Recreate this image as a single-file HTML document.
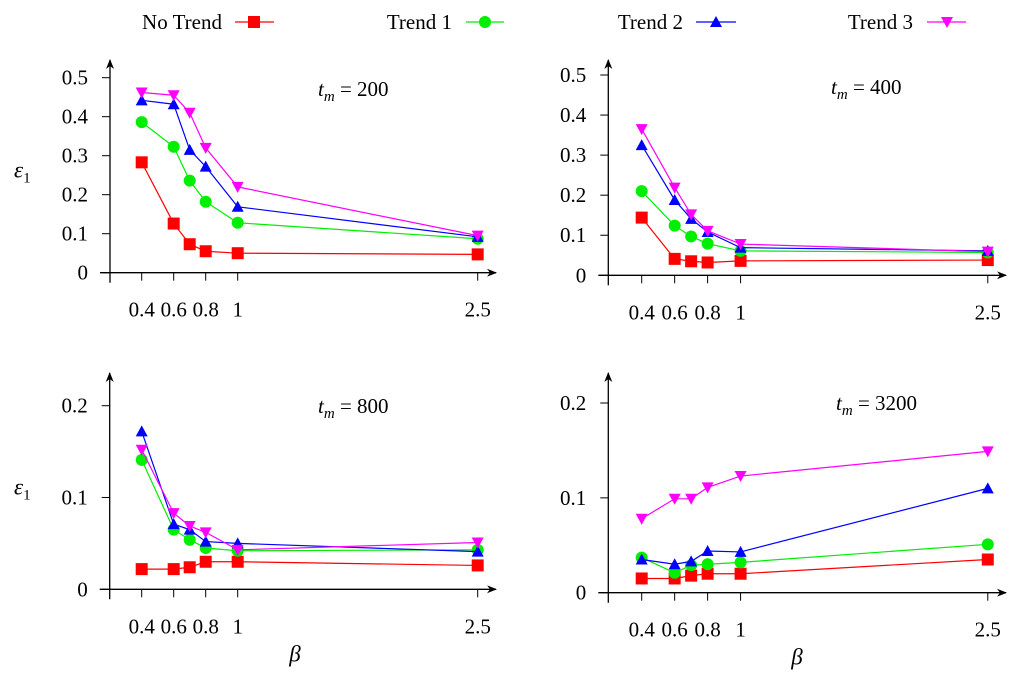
<!DOCTYPE html>
<html><head><meta charset="utf-8"><style>
html,body{margin:0;padding:0;background:#fff;}
svg{display:block;font-family:"Liberation Serif",serif;}
</style></head><body>
<svg id="chart" width="1024" height="678" viewBox="0 0 1024 678" xmlns="http://www.w3.org/2000/svg">
<defs><marker id="arr" markerWidth="10" markerHeight="8" refX="9" refY="4" orient="auto" markerUnits="userSpaceOnUse"><path d="M0,0 L10,4 L0,8 L3,4 Z" fill="#000"/></marker></defs>
<g id="legend" font-size="21"></g>
</svg>
<script>
const betas = [0.4, 0.6, 0.7, 0.8, 1, 2.5];
const xTicks = [0.4, 0.6, 0.8, 1, 2.5];
const xTickLabels = ["0.4", "0.6", "0.8", "1", "2.5"];
const seriesNames = ["No Trend", "Trend 1", "Trend 2", "Trend 3"];
const seriesColors = ["#ff0000", "#00ee00", "#0000ff", "#ff00ff"];
const panelTitles = ["200", "400", "800", "3200"];
const yTicksTop = [0, 0.1, 0.2, 0.3, 0.4, 0.5];
const yTicksBottom = [0, 0.1, 0.2];
const p200 = [[0.283,0.126,0.073,0.055,0.050,0.047],[0.386,0.323,0.236,0.182,0.128,0.087],[0.442,0.432,0.315,0.272,0.169,0.092],[0.462,0.455,0.410,0.320,0.220,0.095]];
const p400 = [[0.144,0.041,0.035,0.032,0.036,0.038],[0.210,0.124,0.097,0.079,0.061,0.057],[0.325,0.188,0.141,0.108,0.069,0.061],[0.365,0.219,0.152,0.111,0.078,0.059]];
const p800 = [[0.022,0.022,0.024,0.030,0.030,0.026],[0.141,0.065,0.054,0.045,0.042,0.043],[0.172,0.071,0.065,0.052,0.050,0.041],[0.152,0.083,0.069,0.062,0.043,0.051]];
const p3200 = [[0.015,0.015,0.018,0.020,0.020,0.035],[0.037,0.021,0.029,0.030,0.032,0.051],[0.035,0.030,0.033,0.044,0.043,0.110],[0.078,0.099,0.099,0.111,0.123,0.149]];

const NS = "http://www.w3.org/2000/svg";
const svg = document.getElementById("chart");
function mk(tag, attrs, parent){const e=document.createElementNS(NS,tag);for(const k in attrs)e.setAttribute(k,attrs[k]);(parent||svg).appendChild(e);return e;}

function marker(g, i, x, y){
  const c = seriesColors[i]; let m;
  if(i===0) m = mk("rect",{x:x-6,y:y-6,width:12,height:12,fill:c},g);
  else if(i===1) m = mk("circle",{cx:x,cy:y,r:6,fill:c},g);
  else if(i===2) m = mk("path",{d:`M${x},${y-6} L${x+6},${y+5} L${x-6},${y+5} Z`,fill:c},g);
  else m = mk("path",{d:`M${x},${y+6} L${x+6},${y-5} L${x-6},${y-5} Z`,fill:c},g);
  return m;
}

const panels = [
  {data:p200, ax:110, ay:272.7, x0:141.7, xs:160, ys:390, yticks:yTicksTop, top:60, xend:496, tx:318, ty:96, ylab:true, xlab:false},
  {data:p400, ax:608.3, ay:275.3, x0:641.7, xs:164.8, ys:400.6, yticks:yTicksTop, top:60, xend:1006, tx:831, ty:94, ylab:false, xlab:false},
  {data:p800, ax:109.7, ay:589.3, x0:141.7, xs:160, ys:918, yticks:yTicksBottom, top:373, xend:496, tx:318, ty:413, ylab:true, xlab:true},
  {data:p3200, ax:608.3, ay:592.7, x0:641.7, xs:164.8, ys:948.5, yticks:yTicksBottom, top:373, xend:1006, tx:836, ty:410, ylab:false, xlab:true}
];

panels.forEach((p, pi) => {
  const g = mk("g",{});
  
  
  const X = v => p.x0 + (v - 0.4) * p.xs;
  const Y = v => p.ay - v * p.ys;
  const xa = mk("line",{x1:p.ax-10,y1:p.ay,x2:p.xend,y2:p.ay,stroke:"#000","stroke-width":1.3,"marker-end":"url(#arr)"},g);
  
  
  const ya = mk("line",{x1:p.ax,y1:p.ay+10,x2:p.ax,y2:p.top,stroke:"#000","stroke-width":1.3,"marker-end":"url(#arr)"},g);
  
  
  xTicks.forEach((t, ti) => {
    mk("line",{x1:X(t),y1:p.ay,x2:X(t),y2:p.ay+8,stroke:"#000","stroke-width":1},g);
    const tl = mk("text",{x:X(t),y:p.ay+44,"text-anchor":"middle","font-size":21},g);
    tl.textContent = xTickLabels[ti];
    
    
  });
  p.yticks.forEach(t => {
    mk("line",{x1:p.ax-8,y1:Y(t),x2:p.ax,y2:Y(t),stroke:"#000","stroke-width":1},g);
    const tl = mk("text",{x:p.ax-22,y:Y(t)+7,"text-anchor":"end","font-size":21},g);
    tl.textContent = t === 0 ? "0" : t.toFixed(1);
    
    
  });
  const tt = mk("text",{x:p.tx,y:p.ty,"font-size":21},g);
  tt.innerHTML = '<tspan font-style="italic">t</tspan><tspan font-style="italic" font-size="15" dy="5">m</tspan><tspan dy="-5"> = ' + panelTitles[pi] + '</tspan>';
  
  
  if(p.ylab){
    const yl = mk("text",{x:14,y:p.ay-95,"font-size":23,"font-style":"italic"},g);
    yl.innerHTML = 'ε<tspan font-size="15" font-style="normal" dy="5">1</tspan>';
    
    
  }
  if(p.xlab){
    const xl = mk("text",{x:(pi===2?295:797),y:p.ay+72,"font-size":23,"font-style":"italic","text-anchor":"middle"},g);
    xl.textContent = "β";
    
    
  }
  p.data.forEach((vals, si) => {
    const sg = mk("g",{},g);
    
    
    const pts = vals.map((v, k) => X(betas[k]) + "," + Y(v)).join(" ");
    mk("polyline",{points:pts,fill:"none",stroke:seriesColors[si],"stroke-width":1.2},sg);
    vals.forEach((v, k) => {
      const m = marker(sg, si, X(betas[k]), Y(v));
      
      
    });
  });
});

const lg = document.getElementById("legend");
const legendPos = [{tr:222, l1:235, l2:274, m:254},{tr:452, l1:466, l2:504, m:485},{tr:683, l1:696, l2:736, m:716},{tr:913, l1:927, l2:966, m:947}];
seriesNames.forEach((n, i) => {
  const p = legendPos[i];
  const eg = mk("g",{},lg);
  
  
  const t = mk("text",{x:p.tr,y:29,"text-anchor":"end"},eg);
  t.textContent = n;
  mk("line",{x1:p.l1,y1:22,x2:p.l2,y2:22,stroke:seriesColors[i],"stroke-width":1.3},eg);
  marker(eg, i, p.m, 22);
});
</script>
</body></html>
